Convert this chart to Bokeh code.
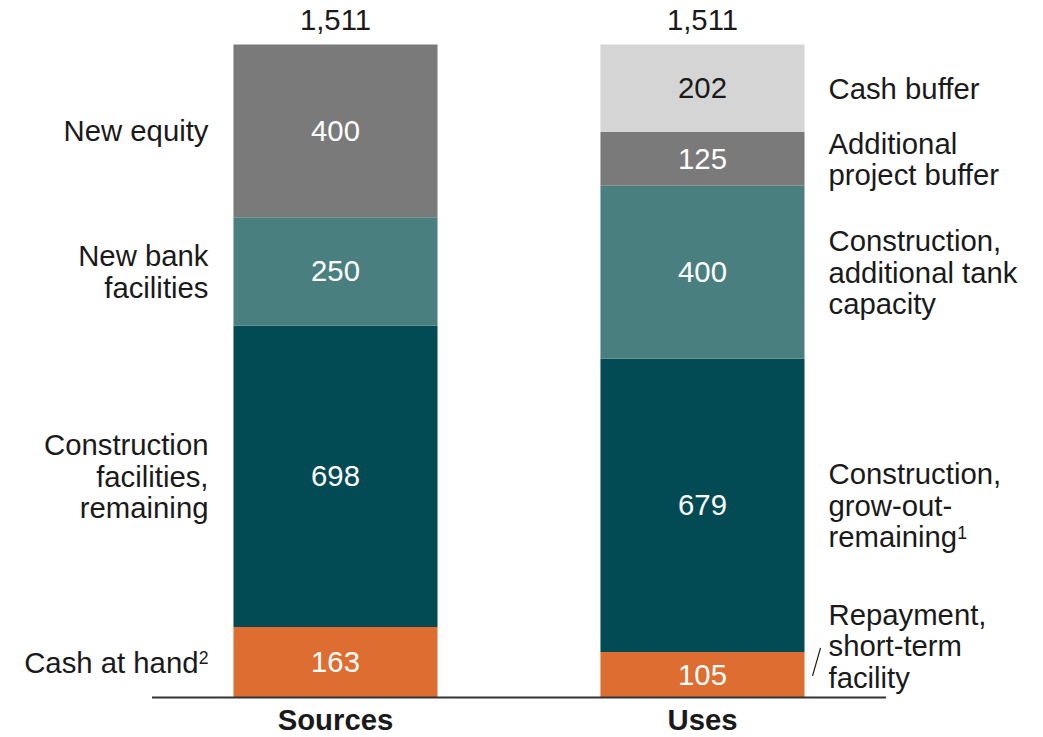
from bokeh.plotting import figure
from bokeh.models import Range1d, ColumnDataSource
from bokeh.core.properties import value
from bokeh.embed import file_html
from bokeh.resources import INLINE

# ---------------- data ----------------
categories = ["Sources", "Uses"]
totals = [1511, 1511]

sources_labels = ["Cash at hand", "Construction\nfacilities,\nremaining",
                  "New bank\nfacilities", "New equity"]
sources_notes = ["2", "", "", ""]
sources_values = [163, 698, 250, 400]

uses_labels = ["Repayment,\nshort-term\nfacility", "Construction,\ngrow-out-\nremaining",
               "Construction,\nadditional tank\ncapacity", "Additional\nproject buffer", "Cash buffer"]
uses_notes = ["", "1", "", "", ""]
uses_values = [105, 679, 400, 125, 202]

# ---------------- styles ----------------
ORANGE = "#DE6D31"
DARK_TEAL = "#024A54"
TEAL = "#4A7F7F"
GRAY = "#7A7A7A"
LIGHT = "#D5D5D5"
TXT = "#1A1A1A"
FONT = value("Liberation Sans")
FSZ = 29.3
FS = f"{FSZ}px"
SUP_FS = "17.6px"
LINE_H = 31.5

sources_colors = [ORANGE, DARK_TEAL, TEAL, GRAY]
uses_colors = [ORANGE, DARK_TEAL, TEAL, GRAY, LIGHT]
sources_txt = ["white", "white", "white", "white"]
uses_txt = ["white", "white", "white", "white", TXT]

BAR_W = 0.556
X0, X1 = -0.9128, 1.9292
Y0, Y1 = -92.55, 1612.8
W, H = 1043, 737

# approximate Arial / Liberation Sans advance widths (em)
_CW = dict(zip("abcdefghijklmnopqrstuvwxyz",
               [.556, .556, .5, .556, .556, .278, .556, .556, .222, .222, .5, .222, .833,
                .556, .556, .556, .556, .333, .5, .278, .556, .5, .722, .5, .5, .5]))


def text_w(s):
    return sum(_CW.get(c, .556 if c.isupper() else .278) for c in s) * FSZ


p = figure(width=W, height=H, x_range=Range1d(X0, X1),
           y_range=Range1d(Y0, Y1), toolbar_location=None,
           output_backend="svg", x_axis_location=None, y_axis_location=None,
           min_border=0, outline_line_color=None)
p.grid.visible = False
p.background_fill_color = "white"
p.border_fill_color = "white"


def stack(xpos, vals, colors, txtcolors):
    bottoms, tops = [], []
    acc = 0
    for v in vals:
        bottoms.append(acc)
        acc += v
        tops.append(acc)
    mids = [(b + t) / 2 for b, t in zip(bottoms, tops)]
    return ColumnDataSource(dict(
        x=[xpos] * len(vals), bottom=bottoms, top=tops, mid=mids,
        val=[str(v) for v in vals], color=colors, tcolor=txtcolors,
    )), mids


src_s, mids_s = stack(0, sources_values, sources_colors, sources_txt)
src_u, mids_u = stack(1, uses_values, uses_colors, uses_txt)

for src in (src_s, src_u):
    p.vbar(x="x", bottom="bottom", top="top", width=BAR_W, fill_color="color",
           line_color=None, source=src)
    p.text(x="x", y="mid", text="val", text_color="tcolor", text_font=FONT,
           text_font_size=FS, text_align="center", text_baseline="middle", source=src)


def label_lines(xpos, labels, notes, mids, extra_offsets, side):
    xs, ys, ts, offs, xo = [], [], [], [], []
    sx, sy, st, soff, sxo = [], [], [], [], []
    for lab, note, m, eo in zip(labels, notes, mids, extra_offsets):
        lines = lab.split("\n")
        n = len(lines)
        for i, ln in enumerate(lines):
            yo = (i - (n - 1) / 2) * LINE_H + eo
            last = (i == n - 1) and note
            xs.append(xpos)
            ys.append(m)
            ts.append(ln)
            offs.append(yo)
            if side == "left":
                xo.append(-25 - (10 if last else 0))
            else:
                xo.append(24)
            if last:
                sx.append(xpos)
                sy.append(m)
                st.append(note)
                soff.append(yo - 4.5)
                sxo.append(-25 if side == "left" else 24 + text_w(ln))
    return (ColumnDataSource(dict(x=xs, y=ys, t=ts, yoff=offs, xoff=xo)),
            ColumnDataSource(dict(x=sx, y=sy, t=st, yoff=soff, xoff=sxo)))


ls, ls_sup = label_lines(-BAR_W / 2, sources_labels, sources_notes, mids_s,
                         [0] * len(sources_labels), "left")
p.text(x="x", y="y", text="t", text_color=TXT, text_font=FONT, text_font_size=FS,
       text_align="right", text_baseline="middle", x_offset="xoff", y_offset="yoff",
       source=ls)
p.text(x="x", y="y", text="t", text_color=TXT, text_font=FONT, text_font_size=SUP_FS,
       text_align="right", text_baseline="middle", x_offset="xoff", y_offset="yoff",
       source=ls_sup)

lu, lu_sup = label_lines(1 + BAR_W / 2, uses_labels, uses_notes, mids_u,
                         [-29] + [0] * (len(uses_labels) - 1), "right")
p.text(x="x", y="y", text="t", text_color=TXT, text_font=FONT, text_font_size=FS,
       text_align="left", text_baseline="middle", x_offset="xoff", y_offset="yoff",
       source=lu)
p.text(x="x", y="y", text="t", text_color=TXT, text_font=FONT, text_font_size=SUP_FS,
       text_align="left", text_baseline="middle", x_offset="xoff", y_offset="yoff",
       source=lu_sup)

# totals
tot_src = ColumnDataSource(dict(x=[0, 1], y=totals, t=[f"{t:,}" for t in totals]))
p.text(x="x", y="y", text="t", text_color=TXT, text_font=FONT, text_font_size=FS,
       text_align="center", text_baseline="middle", y_offset=-24, source=tot_src)

# category names under baseline
cat_src = ColumnDataSource(dict(x=[0, 1], y=[0, 0], t=categories))
p.text(x="x", y="y", text="t", text_color=TXT, text_font=FONT, text_font_size=FS,
       text_font_style="bold", text_align="center", text_baseline="middle",
       y_offset=22, source=cat_src)

# baseline
p.segment(x0=[-0.5], y0=[0], x1=[1.5], y1=[0], line_color="#333333", line_width=2)

# leader line for the small orange segment on Uses
px_x = (X1 - X0) / W
px_y = (Y1 - Y0) / H
lx = 1 + BAR_W / 2 + 8 * px_x
ly = uses_values[0] / 2
p.segment(x0=[lx], y0=[ly - 1 * px_y], x1=[lx + 8 * px_x], y1=[ly + 27 * px_y],
          line_color=TXT, line_width=1.2)

open("out.html", "w").write(file_html(p, INLINE))
